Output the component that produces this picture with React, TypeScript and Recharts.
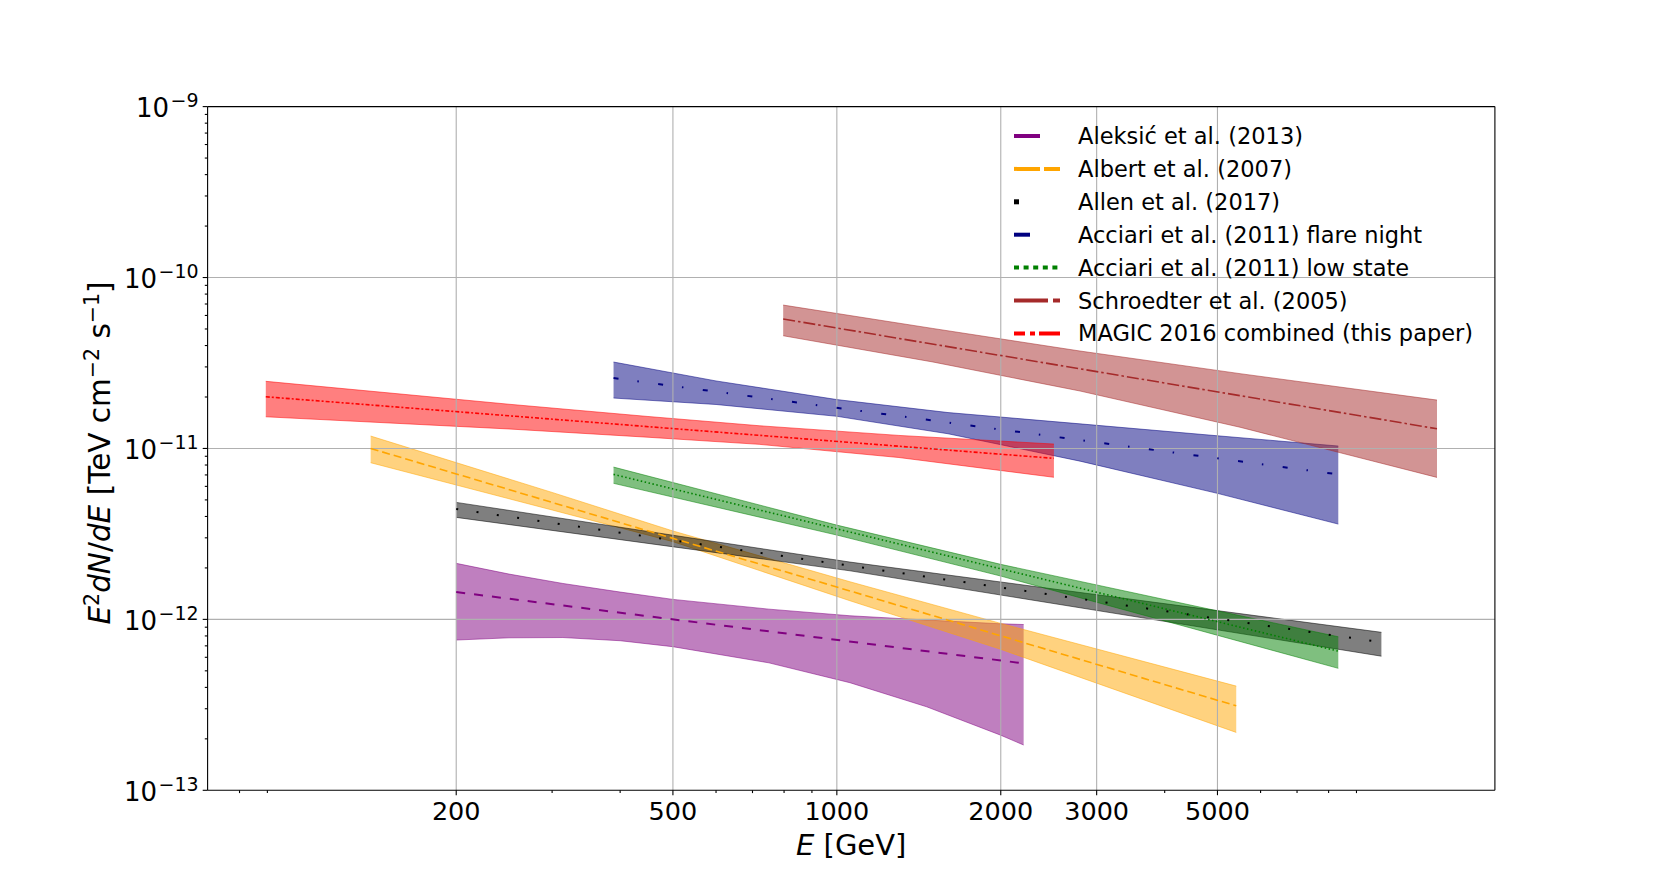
import React from "react";
import { ComposedChart, Area, Line, XAxis, YAxis, ReferenceLine } from "recharts";

// Spectral energy distributions, E^2 dN/dE vs E.
// Band rows: [E (GeV), lower, upper]; fit rows: [E (GeV), value] in TeV cm^-2 s^-1.

const ALEKSIC_BAND: [number, number, number][] = [
  [200, 7.57e-13, 2.127e-12],
  [250, 7.8e-13, 1.841e-12],
  [314, 7.83e-13, 1.622e-12],
  [400, 7.5e-13, 1.445e-12],
  [500, 6.92e-13, 1.309e-12],
  [750, 5.57e-13, 1.148e-12],
  [1057, 4.26e-13, 1.05e-12],
  [1462, 3.08e-13, 9.91e-13],
  [2000, 2.1e-13, 9.42e-13],
  [2203, 1.84e-13, 9.33e-13],
];
const ALEKSIC_FIT: [number, number][] = [
  [200, 1.444e-12],
  [2203, 5.53e-13],
];

const ALBERT_BAND: [number, number, number][] = [
  [139.3, 8.25e-12, 1.182e-11],
  [300, 4.365e-12, 5.53e-12],
  [500, 2.85e-12, 3.29e-12],
  [1057, 1.285e-12, 1.66e-12],
  [2000, 6.68e-13, 9.47e-13],
  [5413, 2.18e-13, 4.07e-13],
];
const ALBERT_FIT: [number, number][] = [
  [139.3, 1.0e-11],
  [5413, 3.12e-13],
];

const ALLEN_BAND: [number, number, number][] = [
  [200, 3.951e-12, 4.836e-12],
  [1057, 1.924e-12, 2.164e-12],
  [10000, 6.09e-13, 8.4e-13],
];
const ALLEN_FIT: [number, number][] = [
  [200, 4.42e-12],
  [10000, 7.35e-13],
];

const FLARE_BAND: [number, number, number][] = [
  [389, 1.972e-11, 3.203e-11],
  [600, 1.808e-11, 2.483e-11],
  [1000, 1.542e-11, 1.932e-11],
  [1600, 1.219e-11, 1.622e-11],
  [2796, 8.43e-12, 1.393e-11],
  [5000, 5.46e-12, 1.186e-11],
  [8334, 3.61e-12, 1.033e-11],
];
const FLARE_FIT: [number, number][] = [
  [389, 2.58e-11],
  [8334, 7.05e-12],
];

const LOW_BAND: [number, number, number][] = [
  [389, 6.25e-12, 7.78e-12],
  [1000, 3.113e-12, 3.56e-12],
  [2000, 1.792e-12, 2.098e-12],
  [8334, 5.17e-13, 7.91e-13],
];
const LOW_FIT: [number, number][] = [
  [389, 7.05e-12],
  [8334, 6.52e-13],
];

const SCHROEDTER_BAND: [number, number, number][] = [
  [797, 4.565e-11, 6.9e-11],
  [1500, 3.206e-11, 5.035e-11],
  [2796, 2.168e-11, 3.715e-11],
  [5500, 1.331e-11, 2.739e-11],
  [12650, 6.77e-12, 1.919e-11],
];
const SCHROEDTER_FIT: [number, number][] = [
  [797, 5.72e-11],
  [12650, 1.304e-11],
];

const MAGIC_BAND: [number, number, number][] = [
  [89.4, 1.532e-11, 2.47e-11],
  [250, 1.3e-11, 1.814e-11],
  [450, 1.163e-11, 1.538e-11],
  [720, 1.057e-11, 1.358e-11],
  [1300, 8.85e-12, 1.192e-11],
  [2504, 6.78e-12, 1.061e-11],
];
const MAGIC_FIT: [number, number][] = [
  [89.4, 2.006e-11],
  [2504, 8.75e-12],
];

// Axes
const X_DOMAIN: [number, number] = [69.9, 16160];
const Y_DOMAIN: [number, number] = [1e-13, 1e-9];
const X_LABELED = [200, 500, 1000, 2000, 3000, 5000];
const X_MINOR = [80, 90, 300, 400, 600, 700, 800, 900, 4000, 6000, 7000, 8000, 9000];
const Y_DECADES = [1e-13, 1e-12, 1e-11, 1e-10, 1e-9];
const Y_EXPONENTS = ["\u221213", "\u221212", "\u221211", "\u221210", "\u22129"];
const Y_MANTISSAS = [2, 3, 4, 5, 6, 7, 8, 9];

const FONT = "DejaVu Sans, Verdana, sans-serif";
const W = 1661;
const H = 888;

type Series = {
  name: string;
  color: string;
  band: [number, number, number][];
  fit: [number, number][];
  dash: string;
  width: number;
};

const SERIES: Series[] = [
  { name: "Aleksi\u0107 et al. (2013)", color: "#800080", band: ALEKSIC_BAND, fit: ALEKSIC_FIT, dash: "9 9", width: 2 },
  { name: "Albert et al. (2007)", color: "#ffa500", band: ALBERT_BAND, fit: ALBERT_FIT, dash: "8 4", width: 1.6 },
  { name: "Allen et al. (2017)", color: "#000000", band: ALLEN_BAND, fit: ALLEN_FIT, dash: "2 18.5", width: 2 },
  { name: "Acciari et al. (2011) flare night", color: "#000080", band: FLARE_BAND, fit: FLARE_FIT, dash: "5 19 1.5 19.5", width: 2 },
  { name: "Acciari et al. (2011) low state", color: "#008000", band: LOW_BAND, fit: LOW_FIT, dash: "1.5 2.5", width: 1.6 },
  { name: "Schroedter et al. (2005)", color: "#a52a2a", band: SCHROEDTER_BAND, fit: SCHROEDTER_FIT, dash: "12 3 2.5 3", width: 1.6 },
  { name: "MAGIC 2016 combined (this paper)", color: "#ff0000", band: MAGIC_BAND, fit: MAGIC_FIT, dash: "4 2 2 2", width: 1.6 },
];

const bandRows = (rows: [number, number, number][]) =>
  rows.map(([e, lo, hi]) => ({ e, range: [lo, hi] }));
const fitRows = (rows: [number, number][]) => rows.map(([e, v]) => ({ e, v }));

const X_TICKS = [...X_LABELED, ...X_MINOR].sort((a, b) => a - b);
const Y_TICKS = [
  ...Y_DECADES,
  ...Y_DECADES.slice(0, 4).flatMap((d) => Y_MANTISSAS.map((m) => m * d)),
].sort((a, b) => a - b);

function XTick(props: any) {
  const { x, y, payload } = props;
  const major = X_LABELED.includes(payload.value);
  return (
    <g>
      <line x1={x} x2={x} y1={y} y2={y + (major ? 4.9 : 2.8)} stroke="#000" strokeWidth={1.1} />
      {major && (
        <text x={x} y={y + 29.7} textAnchor="middle" fontSize={25.5} fontFamily={FONT} fill="#000">
          {payload.value}
        </text>
      )}
    </g>
  );
}

function YTick(props: any) {
  const { x, y, payload } = props;
  const idx = Y_DECADES.indexOf(payload.value);
  const major = idx >= 0;
  return (
    <g>
      <line x1={x - (major ? 4.9 : 2.8)} x2={x} y1={y} y2={y} stroke="#000" strokeWidth={1.1} />
      {major && (
        <text x={x - 9} y={y + 10.7} textAnchor="end" fontSize={26} fontFamily={FONT} fill="#000">
          10
          <tspan dx={1.5} dy={-10} fontSize={19}>
            {Y_EXPONENTS[idx]}
          </tspan>
        </text>
      )}
    </g>
  );
}

// Legend handles, drawn as in the reference (thicker than the plotted lines).
function LegendHandle({ i, y }: { i: number; y: number }) {
  const x0 = 1014;
  const s = SERIES[i];
  switch (i) {
    case 0:
      return <line x1={x0} x2={x0 + 26} y1={y} y2={y} stroke={s.color} strokeWidth={4} />;
    case 1:
      return <line x1={x0} x2={x0 + 46} y1={y} y2={y} stroke={s.color} strokeWidth={4} strokeDasharray="26 4" />;
    case 2:
      return <rect x={x0} y={y - 2.5} width={5} height={5} fill={s.color} />;
    case 3:
      return <line x1={x0} x2={x0 + 16} y1={y} y2={y} stroke={s.color} strokeWidth={4} />;
    case 4:
      return <line x1={x0} x2={x0 + 46} y1={y} y2={y} stroke={s.color} strokeWidth={4} strokeDasharray="5 4.6" />;
    case 5:
      return <line x1={x0} x2={x0 + 46} y1={y} y2={y} stroke={s.color} strokeWidth={4} strokeDasharray="34 5 7 20" />;
    default:
      return <line x1={x0} x2={x0 + 46} y1={y} y2={y} stroke={s.color} strokeWidth={4} strokeDasharray="11 5 5 4 22" />;
  }
}

export default function App() {
  return (
    <div style={{ position: "absolute", left: 0, top: 0, width: W, height: H, background: "#fff" }}>
      <ComposedChart
        width={W}
        height={H}
        margin={{ top: 106.6, right: 166.1, left: 87.6, bottom: 37.7 }}
      >
        <XAxis
          type="number"
          dataKey="e"
          scale="log"
          domain={X_DOMAIN}
          allowDataOverflow
          ticks={X_TICKS}
          interval={0}
          height={60}
          tickSize={0}
          tickMargin={0}
          tickLine={false}
          tick={<XTick />}
          axisLine={{ stroke: "#000", strokeWidth: 1.1 }}
        />
        <YAxis
          type="number"
          scale="log"
          domain={Y_DOMAIN}
          allowDataOverflow
          ticks={Y_TICKS}
          interval={0}
          width={120}
          tickSize={0}
          tickMargin={0}
          tickLine={false}
          tick={<YTick />}
          axisLine={{ stroke: "#000", strokeWidth: 1.1 }}
        />
        {SERIES.map((s) => (
          <Area
            key={s.name + "-band"}
            data={bandRows(s.band)}
            dataKey="range"
            type="linear"
            fill={s.color}
            fillOpacity={0.5}
            stroke={s.color}
            strokeOpacity={0.5}
            strokeWidth={1}
            dot={false}
            activeDot={false}
            isAnimationActive={false}
          />
        ))}
        {X_LABELED.map((v) => (
          <ReferenceLine key={"gx" + v} x={v} stroke="#b0b0b0" strokeWidth={1.1} />
        ))}
        {Y_DECADES.slice(1, 4).map((v) => (
          <ReferenceLine key={"gy" + v} y={v} stroke="#b0b0b0" strokeWidth={1.1} />
        ))}
        {SERIES.map((s) => (
          <Line
            key={s.name + "-fit"}
            data={fitRows(s.fit)}
            dataKey="v"
            type="linear"
            stroke={s.color}
            strokeWidth={s.width}
            strokeDasharray={s.dash}
            dot={false}
            activeDot={false}
            isAnimationActive={false}
          />
        ))}
        <ReferenceLine y={Y_DOMAIN[1]} stroke="#000" strokeWidth={1.1} />
        <ReferenceLine x={X_DOMAIN[1]} stroke="#000" strokeWidth={1.1} />
      </ComposedChart>

      <svg
        width={W}
        height={H}
        style={{ position: "absolute", left: 0, top: 0, pointerEvents: "none" }}
        fontFamily={FONT}
      >
        {SERIES.map((s, i) => {
          const y = 136 + i * 32.9;
          return (
            <g key={s.name}>
              <LegendHandle i={i} y={y} />
              <text x={1078} y={y + 8} fontSize={22.5} fill="#000">
                {s.name}
              </text>
            </g>
          );
        })}
        <text x={851.2} y={855} textAnchor="middle" fontSize={29} fill="#000">
          <tspan fontStyle="italic">E</tspan> [GeV]
        </text>
        <text transform="translate(110,453) rotate(-90)" textAnchor="middle" fontSize={29.5} fill="#000">
          <tspan fontStyle="italic">E</tspan>
          <tspan dy={-11} fontSize={20.5}>2</tspan>
          <tspan dy={11} fontStyle="italic">dN</tspan>
          <tspan>/</tspan>
          <tspan fontStyle="italic">dE</tspan>
          <tspan> [TeV cm</tspan>
          <tspan dy={-11} fontSize={20.5}>{"\u22122"}</tspan>
          <tspan dy={11}> s</tspan>
          <tspan dy={-11} fontSize={20.5}>{"\u22121"}</tspan>
          <tspan dy={11}>]</tspan>
        </text>
      </svg>
    </div>
  );
}
